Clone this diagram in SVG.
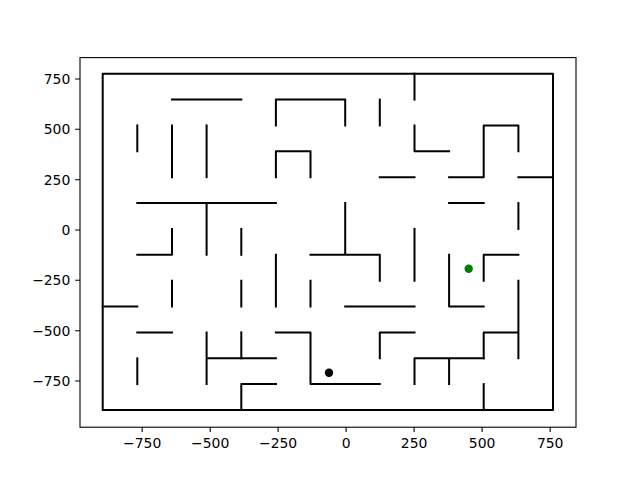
<svg xmlns="http://www.w3.org/2000/svg" width="640" height="480" viewBox="0 0 640 480">
<style>
.wall{fill:none;stroke:#000;stroke-width:2;stroke-linecap:square;stroke-linejoin:round}
.frame{fill:none;stroke:#000;stroke-width:1.1}
.tick{stroke:#000;stroke-width:1.1}
.lbl{font-family:"DejaVu Sans",sans-serif;font-size:13.9px;fill:#000}
</style>
<rect width="640" height="480" fill="#fff"/>
<g id="axes">
<rect class="frame" x="80" y="57.6" width="496" height="369.6"/>
<g id="xticks">
<path class="tick" d="M142.2 427.2V432.1M210.2 427.2V432.1M278.1 427.2V432.1M346.1 427.2V432.1M414.1 427.2V432.1M482.1 427.2V432.1M550.2 427.2V432.1"/>
<g class="lbl" text-anchor="middle">
<text x="142.2" y="447.5">−750</text>
<text x="210.2" y="447.5">−500</text>
<text x="278.1" y="447.5">−250</text>
<text x="346.1" y="447.5">0</text>
<text x="414.1" y="447.5">250</text>
<text x="482.1" y="447.5">500</text>
<text x="550.2" y="447.5">750</text>
</g>
</g>
<g id="yticks">
<path class="tick" d="M75.1 79H80M75.1 129.3H80M75.1 179.7H80M75.1 230H80M75.1 280.3H80M75.1 330.7H80M75.1 381H80"/>
<g class="lbl" text-anchor="end">
<text x="70.3" y="84">750</text>
<text x="70.3" y="134.3">500</text>
<text x="70.3" y="184.7">250</text>
<text x="70.3" y="235">0</text>
<text x="70.3" y="285.3">−250</text>
<text x="70.3" y="335.7">−500</text>
<text x="70.3" y="386">−750</text>
</g>
</g>
</g>
<g id="maze">
<rect class="wall" x="102.7" y="73.7" width="450.3" height="336.3"/>
<path class="wall" d="M172.0 99.6H241.3"/>
<path class="wall" d="M275.9 125.4V99.6H345.2V125.4"/>
<path class="wall" d="M379.8 99.6V125.4"/>
<path class="wall" d="M414.5 73.7V99.6"/>
<path class="wall" d="M137.3 125.4V151.3"/>
<path class="wall" d="M172.0 125.4V177.2"/>
<path class="wall" d="M206.6 125.4V177.2"/>
<path class="wall" d="M275.9 177.2V151.3H310.5V177.2"/>
<path class="wall" d="M414.5 125.4V151.3H449.1"/>
<path class="wall" d="M379.8 177.2H414.5"/>
<path class="wall" d="M449.1 177.2H483.7V125.4H518.4V151.3"/>
<path class="wall" d="M518.4 177.2H553.0"/>
<path class="wall" d="M137.3 203.1H275.9M206.6 203.1V254.8"/>
<path class="wall" d="M449.1 203.1H483.7"/>
<path class="wall" d="M518.4 203.1V228.9"/>
<path class="wall" d="M137.3 254.8H172.0V228.9"/>
<path class="wall" d="M241.3 228.9V254.8"/>
<path class="wall" d="M310.5 254.8H379.8V280.7M345.2 203.1V254.8"/>
<path class="wall" d="M414.5 228.9V280.7"/>
<path class="wall" d="M449.1 254.8V306.5H483.7"/>
<path class="wall" d="M483.7 280.7V254.8H518.4"/>
<path class="wall" d="M275.9 254.8V306.5"/>
<path class="wall" d="M172.0 280.7V306.5M241.3 280.7V306.5M310.5 280.7V306.5"/>
<path class="wall" d="M102.7 306.5H137.3"/>
<path class="wall" d="M345.2 306.5H414.5"/>
<path class="wall" d="M137.3 332.4H172.0"/>
<path class="wall" d="M275.9 332.4H310.5V384.1H379.8"/>
<path class="wall" d="M379.8 358.3V332.4H414.5"/>
<path class="wall" d="M518.4 280.7V358.3M483.7 358.3V332.4H518.4"/>
<path class="wall" d="M414.5 384.1V358.3H483.7M449.1 358.3V384.1"/>
<path class="wall" d="M206.6 332.4V384.1M206.6 358.3H275.9"/>
<path class="wall" d="M241.3 332.4V358.3"/>
<path class="wall" d="M241.3 410.0V384.1H275.9"/>
<path class="wall" d="M137.3 358.3V384.1"/>
<path class="wall" d="M483.7 384.1V410.0"/>
</g>
<g id="markers">
<circle id="start" cx="329" cy="372.7" r="4.2" fill="#000"/>
<circle id="goal" cx="468.7" cy="268.7" r="4.2" fill="#008000"/>
</g>
</svg>
